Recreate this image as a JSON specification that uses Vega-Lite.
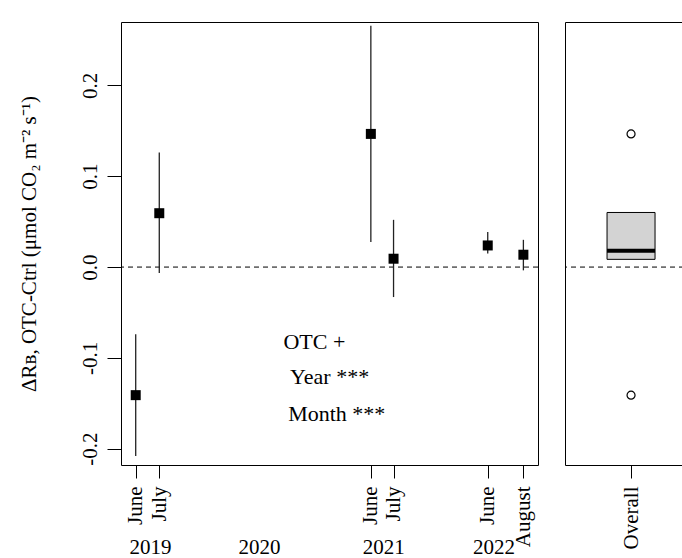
{
  "$schema": "https://vega.github.io/schema/vega-lite/v6.json",
  "padding": {"left": 17, "top": 21, "right": 0, "bottom": 0},
  "background": "white",
  "spacing": 25,
  "config": {
    "font": "Liberation Serif",
    "axis": {
      "labelFont": "Liberation Serif",
      "titleFont": "Liberation Serif",
      "labelFontSize": 21,
      "titleFontSize": 21,
      "titleFontWeight": "normal",
      "labelColor": "black",
      "titleColor": "black",
      "tickColor": "black",
      "domainColor": "black",
      "tickWidth": 1,
      "grid": false
    },
    "view": {"stroke": "black", "strokeWidth": 1},
    "text": {"font": "Liberation Serif"}
  },
  "datasets": {
    "samples": [
      {"sample": "June 2019", "t": 0, "mean": -0.141, "lo": -0.208, "hi": -0.074},
      {"sample": "July 2019", "t": 2.42, "mean": 0.0593, "lo": -0.0066, "hi": 0.126},
      {"sample": "June 2021", "t": 24.14, "mean": 0.1466, "lo": 0.0275, "hi": 0.2656},
      {"sample": "July 2021", "t": 26.47, "mean": 0.0092, "lo": -0.033, "hi": 0.052},
      {"sample": "June 2022", "t": 36.14, "mean": 0.0238, "lo": 0.015, "hi": 0.0385},
      {"sample": "August 2022", "t": 39.8, "mean": 0.0136, "lo": -0.0036, "hi": 0.030}
    ],
    "notes": [
      {"label": "OTC +", "t": 15.17, "v": -0.0897},
      {"label": "Year ***", "t": 15.85, "v": -0.1289},
      {"label": "Month ***", "t": 15.65, "v": -0.1696}
    ],
    "box": [
      {"group": "Overall", "q1": 0.0085, "median": 0.0181, "q3": 0.0601}
    ],
    "outliers": [
      {"group": "Overall", "value": 0.1466},
      {"group": "Overall", "value": -0.141}
    ],
    "reference": [
      {"baseline": 0}
    ]
  },
  "hconcat": [
    {
      "width": 417,
      "height": 443,
      "view": {"stroke": "black"},
      "layer": [
        {
          "data": {"name": "reference"},
          "mark": {"type": "rule", "strokeDash": [5, 4], "color": "black", "strokeWidth": 1},
          "encoding": {
            "y": {"field": "baseline", "type": "quantitative", "scale": {"domain": [-0.2179, 0.2698], "nice": false, "zero": false}}
          }
        },
        {
          "data": {"name": "samples"},
          "mark": {"type": "rule", "color": "#222222", "strokeWidth": 1.3},
          "encoding": {
            "x": {
              "field": "t", "type": "quantitative",
              "scale": {"domain": [-1.51, 41.3], "nice": false, "zero": false},
              "axis": {
                "orient": "bottom",
                "title": null,
                "values": [0, 2.42, 24.14, 26.47, 36.14, 39.8],
                "labelExpr": "datum.value < 1 ? 'June' : datum.value < 10 ? 'July' : datum.value < 25 ? 'June' : datum.value < 30 ? 'July' : datum.value < 38 ? 'June' : 'August'",
                "labelAngle": -90,
                "labelAlign": "right",
                "labelBaseline": "middle",
                "labelFlush": false,
                "labelOverlap": false,
                "tickSize": 13,
                "labelPadding": 8,
                "domain": false
              }
            },
            "y": {
              "field": "lo", "type": "quantitative",
              "scale": {"domain": [-0.2179, 0.2698], "nice": false, "zero": false},
              "axis": {
                "title": "ΔRʙ, OTC-Ctrl (μmol CO₂ m⁻² s⁻¹)",
                "values": [-0.2, -0.1, 0, 0.1, 0.2],
                "labelExpr": "datum.value < 0 ? '-' + format(-datum.value, '.1f') : format(datum.value, '.1f')",
                "labelAngle": -90,
                "labelAlign": "center",
                "labelBaseline": "bottom",
                "tickSize": 14,
                "labelPadding": 7,
                "titlePadding": 40,
                "domain": false
              }
            },
            "y2": {"field": "hi"}
          }
        },
        {
          "data": {"name": "samples"},
          "mark": {"type": "point", "shape": "square", "filled": true, "color": "black", "size": 100, "opacity": 1},
          "encoding": {
            "x": {"field": "t", "type": "quantitative", "axis": null},
            "y": {"field": "mean", "type": "quantitative"}
          }
        },
        {
          "data": {"name": "notes"},
          "mark": {"type": "text", "align": "left", "baseline": "alphabetic", "fontSize": 22, "color": "black"},
          "encoding": {
            "x": {
              "field": "t", "type": "quantitative",
              "axis": {
                "orient": "bottom",
                "title": null,
                "values": [1.47, 12.67, 25.41, 36.72],
                "labelExpr": "datum.value < 5 ? '2019' : datum.value < 20 ? '2020' : datum.value < 30 ? '2021' : '2022'",
                "labelAngle": 0,
                "labelAlign": "center",
                "labelBaseline": "top",
                "labelFlush": false,
                "labelOverlap": false,
                "ticks": false,
                "tickSize": 0,
                "domain": false,
                "labelPadding": 71
              }
            },
            "y": {"field": "v", "type": "quantitative"},
            "text": {"field": "label"}
          }
        }
      ],
      "resolve": {"axis": {"x": "independent"}}
    },
    {
      "width": 119,
      "height": 443,
      "view": {"stroke": "black"},
      "layer": [
        {
          "data": {"name": "reference"},
          "mark": {"type": "rule", "strokeDash": [5, 4], "color": "black", "strokeWidth": 1},
          "encoding": {
            "y": {"field": "baseline", "type": "quantitative", "scale": {"domain": [-0.2179, 0.2698], "nice": false, "zero": false}, "axis": null}
          }
        },
        {
          "data": {"name": "box"},
          "mark": {"type": "bar", "size": 48, "fill": "#d3d3d3", "stroke": "black", "strokeWidth": 1},
          "encoding": {
            "x": {
              "field": "group", "type": "nominal",
              "scale": {"type": "point", "padding": 0.5, "align": 0.555},
              "axis": {
                "title": null,
                "labelAngle": -90,
                "labelAlign": "right",
                "labelBaseline": "middle",
                "tickSize": 13,
                "labelPadding": 8,
                "domain": false
              }
            },
            "y": {"field": "q1", "type": "quantitative", "scale": {"domain": [-0.2179, 0.2698], "nice": false, "zero": false}, "axis": null},
            "y2": {"field": "q3"}
          }
        },
        {
          "data": {"name": "box"},
          "mark": {"type": "tick", "size": 48, "thickness": 4, "color": "black", "orient": "horizontal", "opacity": 1},
          "encoding": {
            "x": {"field": "group", "type": "nominal"},
            "y": {"field": "median", "type": "quantitative", "axis": null}
          }
        },
        {
          "data": {"name": "outliers"},
          "mark": {"type": "point", "shape": "circle", "filled": false, "stroke": "black", "strokeWidth": 1.2, "size": 64, "opacity": 1},
          "encoding": {
            "x": {"field": "group", "type": "nominal"},
            "y": {"field": "value", "type": "quantitative", "axis": null}
          }
        }
      ]
    }
  ]
}
